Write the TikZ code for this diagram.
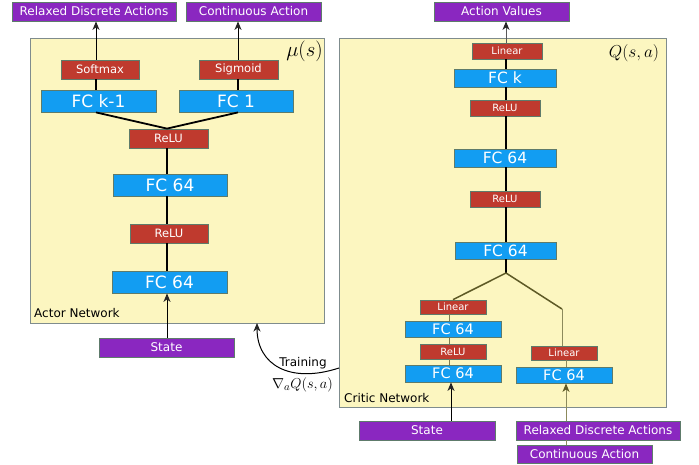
\documentclass[tikz,border=0pt]{standalone}
\usepackage{fontspec}
\setmainfont{DejaVu Sans}
\usetikzlibrary{arrows.meta}
\definecolor{netfill}{HTML}{FCF6C0}
\definecolor{netdraw}{HTML}{7F8C8D}
\definecolor{fcblue}{HTML}{129DF2}
\definecolor{actred}{HTML}{BF3A2E}
\definecolor{iopurple}{HTML}{8A27C0}
\definecolor{boxdraw}{HTML}{5E7B6B}
\definecolor{olivedark}{HTML}{5E5A26}
\definecolor{olivelight}{HTML}{8C8A5C}
\begin{document}
\begin{tikzpicture}[x=1pt,y=-1pt,
  base/.style={draw=boxdraw, line width=0.8pt, inner sep=0pt, text=white},
  netbox/.style={draw=netdraw, fill=netfill, line width=1pt, inner sep=0pt},
  fcbox/.style={base, fill=fcblue},
  actbox/.style={base, fill=actred},
  iobox/.style={base, fill=iopurple, font=\fontsize{12}{12}\selectfont},
  sz/.style 2 args={minimum width=#1, minimum height=#2},
  fcbig/.style={font=\fontsize{17}{17}\selectfont},
  fcmid/.style={font=\fontsize{15.5}{15.5}\selectfont},
  fcsmall/.style={font=\fontsize{14.5}{14.5}\selectfont},
  actbig/.style={font=\fontsize{11.5}{11.5}\selectfont},
  actsmall/.style={font=\fontsize{10}{10}\selectfont},
  thickline/.style={line width=2pt, black},
  tip/.style={-{Stealth[length=8.5pt,width=7pt,inset=2.5pt,color=black!85]}},
  arrowline/.style={line width=1pt, tip},
  lbl/.style={font=\fontsize{12}{12}\selectfont, inner sep=0pt}
]
\useasboundingbox (0,0) rectangle (699,464);

% column coordinates
\coordinate (acolL) at (96,0);
\coordinate (acolR) at (238,0);
\coordinate (acol) at (167,0);
\coordinate (ccol) at (506,0);
\coordinate (lcol) at (449,0);
\coordinate (lacol) at (451,0);
\coordinate (rcol) at (566,0);

% network containers
\node[netbox, sz={294}{285}] (actor) at (177,180.5) {};
\node[netbox, sz={327}{369}] (critic) at (502.5,222.5) {};

% ---------- Actor ----------
\node[iobox, sz={164}{19}] (arda) at (94,11.5) {Relaxed Discrete Actions};
\node[iobox, sz={135}{19}] (aca) at (253.5,11.5) {Continuous Action};
\node[actbox, actbig, sz={78}{19}] (softmax) at (100,69.5) {Softmax};
\node[actbox, actbig, sz={79}{19}] (sigmoid) at (238.5,69.5) {Sigmoid};
\node[fcbox, fcbig, sz={115}{22}] (fck1) at (98.5,101) {FC k-1};
\node[fcbox, fcbig, sz={114}{22}] (fc1) at (236,101) {FC 1};
\node[actbox, actbig, sz={79}{19}] (arelu1) at (168.5,138.5) {ReLU};
\node[fcbox, fcbig, sz={114}{22}] (afc64a) at (170,185) {FC 64};
\node[actbox, actbig, sz={78}{19}] (arelu2) at (169,233.5) {ReLU};
\node[fcbox, fcbig, sz={115}{22}] (afc64b) at (169.5,282) {FC 64};
\node[iobox, sz={135}{19}] (astate) at (166.5,347.5) {State};

\draw[arrowline] (astate.north -| acol) -- (afc64b.south -| acol);
\draw[thickline] (afc64b.north -| acol) -- (arelu2.south -| acol);
\draw[thickline] (arelu2.north -| acol) -- (afc64a.south -| acol);
\draw[thickline] (afc64a.north -| acol) -- (arelu1.south -| acol);
\draw[line width=1.8pt] (arelu1.north -| acol) -- (fck1.south -| acolL);
\draw[line width=1.8pt] (arelu1.north -| acol) -- (fc1.south -| acolR);
\draw[thickline] (fck1.north -| acolL) -- (softmax.south -| acolL);
\draw[thickline] (fc1.north -| acolR) -- (sigmoid.south -| acolR);
\draw[arrowline] (softmax.north -| acolL) -- (arda.south -| acolL);
\draw[arrowline] (sigmoid.north -| acolR) -- (aca.south -| acolR);

\node[lbl, anchor=base west] (actorlbl) at (34,317) {Actor Network};
\node[inner sep=0pt, font=\fontsize{20}{20}\selectfont] (mulbl) at (304.5,51) {$\mu(s)$};

% ---------- Critic ----------
\node[iobox, sz={135}{19}] (av) at (501.5,11.5) {Action Values};
\node[actbox, actsmall, sz={70}{16}] (clin) at (507,51) {Linear};
\node[fcbox, fcmid, sz={102}{18}] (cfck) at (505,78) {FC k};
\node[actbox, actsmall, sz={70}{16}] (crelu1) at (505,108) {ReLU};
\node[fcbox, fcmid, sz={102}{18}] (cfc64a) at (505,158) {FC 64};
\node[actbox, actsmall, sz={70}{16}] (crelu2) at (505,199) {ReLU};
\node[fcbox, fcmid, sz={101}{17}] (cfc64b) at (505.5,250.5) {FC 64};
\coordinate (branch) at (506,273);
\coordinate (rbend) at (562,309);

\node[actbox, actsmall, sz={66}{14}] (llin) at (453,307) {Linear};
\node[fcbox, fcsmall, sz={96}{16}] (lfca) at (453,329) {FC 64};
\node[actbox, actsmall, sz={66}{15}] (lrelu) at (453,351.5) {ReLU};
\node[fcbox, fcsmall, sz={96}{17}] (lfcb) at (453,373.5) {FC 64};

\node[actbox, actsmall, sz={66}{14}] (rlin) at (564,353) {Linear};
\node[fcbox, fcsmall, sz={96}{16}] (rfc) at (564,375) {FC 64};

\node[iobox, sz={136}{19}] (cstate) at (427,430.5) {State};
\node[iobox, sz={164}{19}] (crda) at (598,430.5) {Relaxed Discrete Actions};
\node[iobox, sz={135}{18}] (cca) at (584.5,454) {Continuous Action};

\draw[arrowline, draw=black!65] (clin.north -| ccol) -- (av.south -| ccol);
\draw[thickline] (clin.south -| ccol) -- (cfck.north -| ccol);
\draw[thickline] (cfck.south -| ccol) -- (crelu1.north -| ccol);
\draw[thickline] (crelu1.south -| ccol) -- (cfc64a.north -| ccol);
\draw[thickline] (cfc64a.south -| ccol) -- (crelu2.north -| ccol);
\draw[thickline] (crelu2.south -| ccol) -- (cfc64b.north -| ccol);
\draw[thickline] (cfc64b.south -| ccol) -- (branch);
\draw[line width=1.5pt, olivedark] (branch) -- (llin.north);
\draw[line width=1.5pt, olivedark] (branch) -- (rbend);
\draw[line width=1pt, olivelight] (rbend) -- (rlin.north -| rbend);
\draw[line width=1pt, olivedark!80] (llin.south -| lcol) -- (lfca.north -| lcol);
\draw[line width=1pt, olivedark!80] (lfca.south -| lcol) -- (lrelu.north -| lcol);
\draw[line width=1pt, olivedark!80] (lrelu.south -| lcol) -- (lfcb.north -| lcol);
\draw[line width=1pt, olivelight] (rlin.south -| rcol) -- (rfc.north -| rcol);
\draw[arrowline] (cstate.north -| lacol) -- (lfcb.south -| lacol);
\draw[line width=1pt, olivelight, -{Stealth[length=8.5pt,width=7pt,inset=2.5pt,color=olivedark]}] (crda.north -| rcol) -- (rfc.south -| rcol);
\draw[line width=1pt, olivelight] (cca.north -| rcol) -- (crda.south -| rcol);

\node[lbl, anchor=base west] (criticlbl) at (344,402) {Critic Network};
\node[inner sep=0pt, font=\fontsize{19}{19}\selectfont] (qlbl) at (634,53) {$Q(s,a)$};

% ---------- Training ----------
\coordinate (tstart) at (339,368);
\coordinate (tend) at (257,323);
\draw[arrowline] (tstart) .. controls (290,384) and (257,365) .. (tend);
\node[lbl] (trainlbl) at (303,363) {Training};
\node[inner sep=0pt, font=\fontsize{15}{15}\selectfont] (gradlbl) at (302.5,385) {$\nabla_a Q(s,a)$};
\end{tikzpicture}
\end{document}
